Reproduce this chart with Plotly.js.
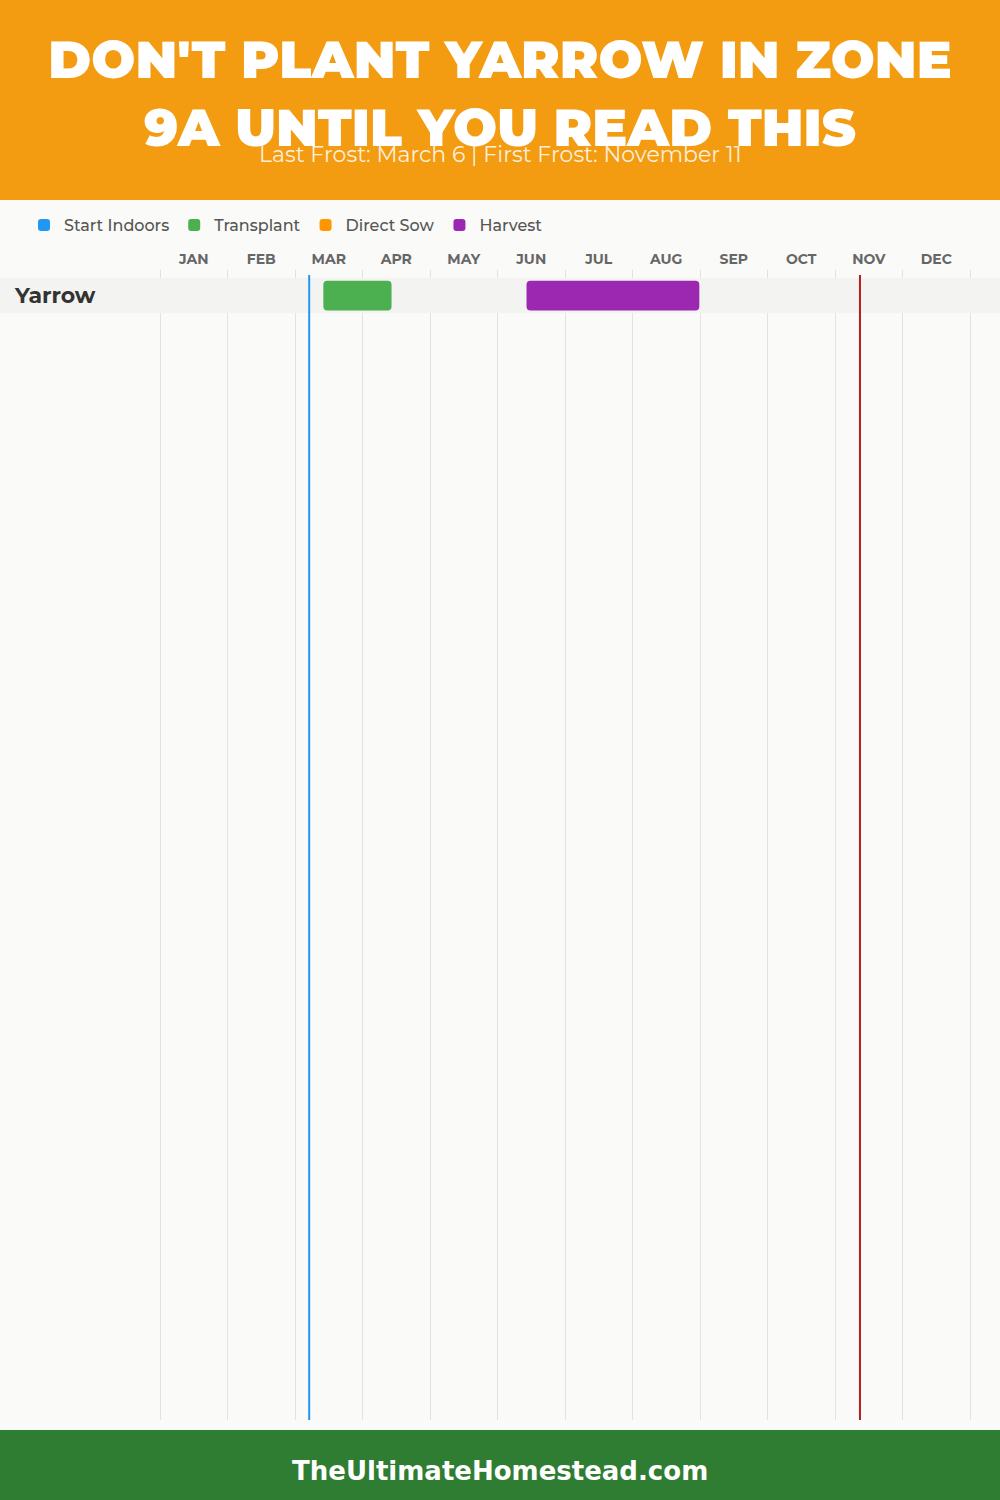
<!DOCTYPE html>
<html>
<head>
<meta charset="utf-8">
<script src="https://cdn.plot.ly/plotly-3.0.1.min.js"></script>
<style>
  html, body { margin: 0; padding: 0; background: #FAFAF8; }
  #chart { width: 1000px; height: 1500px; }
</style>
</head>
<body>
<div id="chart"></div>
<script>
// ---- data ----
const months = ['JAN','FEB','MAR','APR','MAY','JUN','JUL','AUG','SEP','OCT','NOV','DEC'];
const monthCenters = [0.5,1.5,2.5,3.5,4.5,5.5,6.5,7.5,8.5,9.5,10.5,11.5];
const monthEdges = [0,1,2,3,4,5,6,7,8,9,10,11,12];
const crops = ['Yarrow'];
const cropIndex = [0];
// month values (month index + day/daysInMonth)
const startIndoorsStart = [];
const startIndoorsEnd = [];
const transplantStart = [2.42];   // Mar 13
const transplantEnd = [3.43];     // Apr 13
const directSowStart = [];
const directSowEnd = [];
const harvestStart = [5.43];      // Jun 13
const harvestEnd = [7.99];        // Aug 31
const lastFrost = [2.21];         // Mar 6
const firstFrost = [10.37];       // Nov 11
const titleText = "DON'T PLANT YARROW IN ZONE<br>9A UNTIL YOU READ THIS";
const subtitleText = "Last Frost: March 6 | First Frost: November 11";
const footerText = "TheUltimateHomestead.com";

// ---- geometry ----
const W = 1000, H = 1500, MT = 270, MB = 80;
const PH = H - MT - MB;
const py = p => (H - MB - p) / PH;       // pixel (from top) -> paper y
const colW = 67.5, x0px = 160;
const xRange = [-x0px / colW, (W - x0px) / colW];
const rowH = 35, rowCenterPx = 295.5;
const yTop = -(rowCenterPx - MT) / rowH;
const yBottom = yTop + PH / rowH;

const colors = {
  startIndoors: '#2196F3',
  transplant: '#4CAF50',
  directSow: '#FF9800',
  harvest: '#9C27B0'
};

function barTrace(name, starts, ends, color) {
  const empty = starts.length === 0;
  return {
    type: 'bar',
    orientation: 'h',
    name: name,
    y: empty ? [null] : starts.map((s, i) => cropIndex[i]),
    base: empty ? [null] : starts,
    x: empty ? [null] : starts.map((s, i) => ends[i] - s),
    width: 0.85,
    marker: { color: color, cornerradius: 4, line: { width: 0 } },
    hoverinfo: 'skip',
    showlegend: true
  };
}

const traces = [
  barTrace('Start Indoors', startIndoorsStart, startIndoorsEnd, colors.startIndoors),
  barTrace('Transplant', transplantStart, transplantEnd, colors.transplant),
  barTrace('Direct Sow', directSowStart, directSowEnd, colors.directSow),
  barTrace('Harvest', harvestStart, harvestEnd, colors.harvest)
];

const shapes = [
  // header
  { type: 'rect', xref: 'paper', yref: 'paper', x0: 0, x1: 1, y0: py(200), y1: py(0),
    fillcolor: '#F39C12', line: { width: 0 }, layer: 'below' },
  // footer
  { type: 'rect', xref: 'paper', yref: 'paper', x0: 0, x1: 1, y0: py(1500), y1: py(1430),
    fillcolor: '#2E7D32', line: { width: 0 }, layer: 'below' }
];
// row bands
cropIndex.forEach(i => {
  shapes.push({ type: 'rect', xref: 'x', yref: 'y', x0: xRange[0], x1: xRange[1],
    y0: i - 0.5, y1: i + 0.5, fillcolor: '#F3F3F1', line: { width: 0 }, layer: 'between' });
});
// frost lines
shapes.push({ type: 'line', xref: 'x', yref: 'paper', x0: lastFrost[0], x1: lastFrost[0],
  y0: 0, y1: py(275), line: { color: '#2196F3', width: 2 }, layer: 'above' });
shapes.push({ type: 'line', xref: 'x', yref: 'paper', x0: firstFrost[0], x1: firstFrost[0],
  y0: 0, y1: py(275), line: { color: '#B71C1C', width: 2 }, layer: 'above' });

const layout = {
  width: W, height: H,
  margin: { l: 0, r: 0, t: MT, b: MB, pad: 0 },
  paper_bgcolor: '#FAFAF8',
  plot_bgcolor: 'rgba(0,0,0,0)',
  barmode: 'overlay',
  font: { family: 'Montserrat, Inter, "Open Sans", sans-serif' },
  title: {
    text: titleText,
    x: 0.5, xanchor: 'center',
    yref: 'container', y: 1 - 78 / H, yanchor: 'middle',
    font: { family: 'Montserrat, Inter, sans-serif', size: 52, weight: 900, color: '#FFFFFF' }
  },
  xaxis: {
    range: xRange, side: 'top', fixedrange: true,
    tickmode: 'array', tickvals: monthCenters, ticktext: months, ticks: '',
    ticklabelstandoff: 2,
    tickfont: { family: 'Montserrat, Inter, sans-serif', size: 14, weight: 700, color: '#666666' },
    showgrid: false, zeroline: false, showline: false,
    minor: { tickmode: 'array', tickvals: monthEdges, showgrid: true, gridcolor: '#E2E2E2', gridwidth: 1, ticks: '' }
  },
  yaxis: {
    range: [yBottom, yTop], fixedrange: true,
    tickmode: 'array', tickvals: cropIndex, ticktext: crops, ticks: '',
    ticklabelposition: 'inside', ticklabelstandoff: 12,
    tickfont: { family: 'Montserrat, Inter, sans-serif', size: 22, weight: 700, color: '#333333' },
    showgrid: false, zeroline: false, showline: false
  },
  legend: {
    orientation: 'h', x: 0.024, xanchor: 'left', y: py(225), yanchor: 'middle',
    font: { family: 'Montserrat, Inter, sans-serif', size: 16, weight: 500, color: '#555555' },
    bgcolor: 'rgba(0,0,0,0)', traceorder: 'normal'
  },
  shapes: shapes,
  annotations: [
    { text: subtitleText, xref: 'paper', yref: 'paper', x: 0.5, y: py(154), xanchor: 'center', yanchor: 'middle',
      showarrow: false, font: { family: 'Montserrat, Inter, sans-serif', size: 22, weight: 400, color: 'rgba(255,255,255,0.85)' } },
    { text: footerText, xref: 'paper', yref: 'paper', x: 0.5, y: py(1471), xanchor: 'center', yanchor: 'middle',
      showarrow: false, font: { family: '"DejaVu Sans", sans-serif', size: 26, weight: 700, color: '#FFFFFF' } }
  ]
};

Plotly.newPlot('chart', traces, layout, { displayModeBar: false, staticPlot: true });
</script>
</body>
</html>
